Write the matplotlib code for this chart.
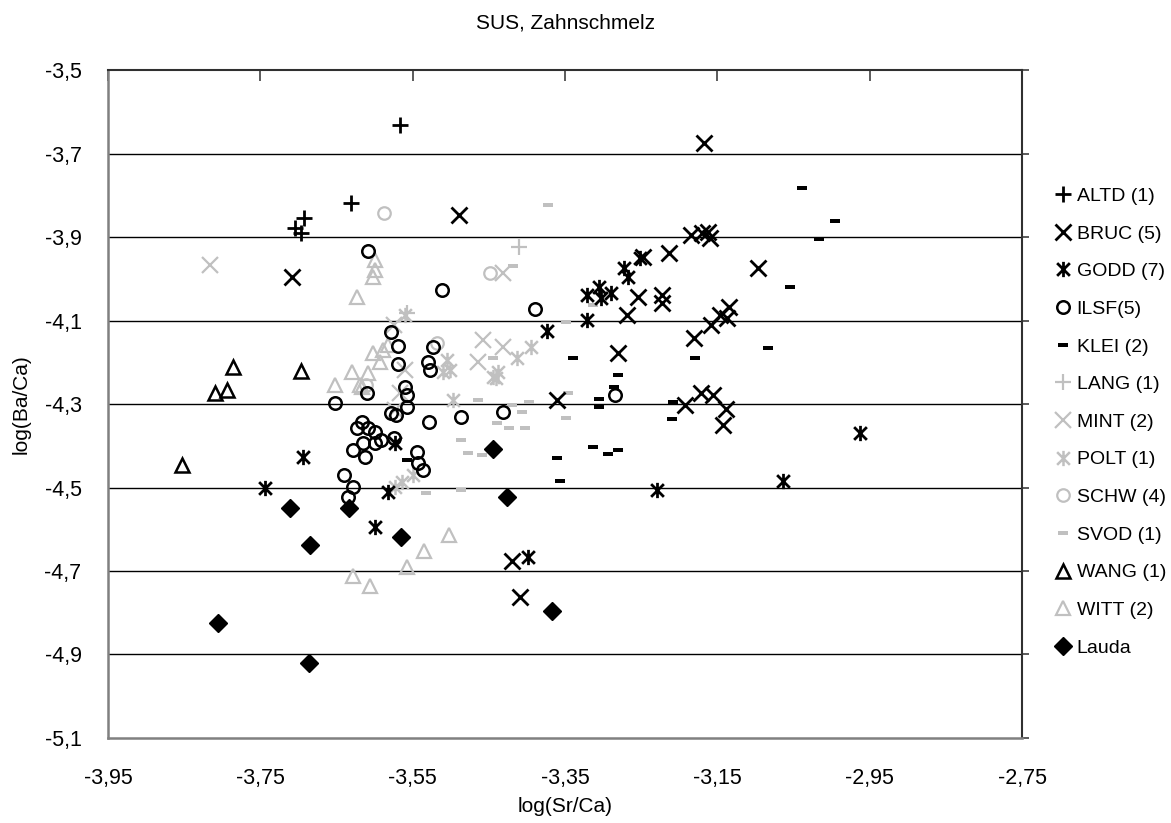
import matplotlib
matplotlib.use("Agg")
import matplotlib.pyplot as plt
from matplotlib.path import Path
from matplotlib.ticker import FuncFormatter, FixedLocator

plt.rcParams['font.family'] = ['Liberation Sans', 'DejaVu Sans']

# ---- data: log(Sr/Ca), log(Ba/Ca) per site ----
altd_x = [-3.566, -3.631, -3.692, -3.704, -3.696]
altd_y = [-3.632, -3.819, -3.854, -3.878, -3.890]

bruc_x = [-3.708, -3.489, -3.168, -3.185, -3.170, -3.162, -3.159, -3.214, -3.248,
          -3.096, -3.254, -3.268, -3.223, -3.223, -3.135, -3.146, -3.137, -3.158,
          -3.181, -3.172, -3.156, -3.192, -3.138, -3.143, -3.280, -3.360, -3.420,
          -3.409]
bruc_y = [-3.996, -3.847, -3.675, -3.895, -3.890, -3.888, -3.902, -3.938, -3.948,
          -3.974, -4.044, -4.087, -4.039, -4.058, -4.068, -4.087, -4.094, -4.111,
          -4.142, -4.274, -4.278, -4.302, -4.312, -4.350, -4.178, -4.290, -4.676,
          -4.762]

godd_x = [-3.744, -3.694, -3.600, -3.582, -3.573, -3.374, -3.321, -3.321, -3.306,
          -3.290, -3.303, -3.273, -3.267, -3.251, -3.398, -3.229, -3.064, -2.963]
godd_y = [-4.501, -4.427, -4.594, -4.511, -4.393, -4.125, -4.099, -4.039, -4.020,
          -4.034, -4.046, -3.974, -3.996, -3.950, -4.666, -4.506, -4.484, -4.369]

ilsf_x = [-3.608, -3.512, -3.579, -3.569, -3.569, -3.610, -3.652, -3.560, -3.558,
          -3.557, -3.579, -3.572, -3.487, -3.528, -3.523, -3.530, -3.527, -3.616,
          -3.623, -3.608, -3.599, -3.592, -3.599, -3.615, -3.628, -3.612, -3.575,
          -3.544, -3.543, -3.536, -3.640, -3.628, -3.635, -3.432, -3.285, -3.390]
ilsf_y = [-3.933, -4.027, -4.127, -4.161, -4.204, -4.274, -4.297, -4.259, -4.278,
          -4.307, -4.321, -4.326, -4.331, -4.343, -4.163, -4.199, -4.218, -4.343,
          -4.357, -4.357, -4.367, -4.386, -4.393, -4.393, -4.410, -4.427, -4.381,
          -4.415, -4.441, -4.458, -4.470, -4.499, -4.523, -4.319, -4.278, -4.072]

klei_x = [-3.558, -3.339, -3.281, -3.305, -3.306, -3.286, -3.361, -3.313, -3.294,
          -3.280, -3.356, -3.208, -3.209, -3.179, -3.084, -3.054, -3.017, -2.996,
          -3.039]
klei_y = [-4.434, -4.190, -4.230, -4.288, -4.307, -4.259, -4.429, -4.403, -4.420,
          -4.410, -4.484, -4.295, -4.336, -4.190, -4.166, -4.020, -3.905, -3.862,
          -3.783]

lang_x = [-3.411, -3.557]
lang_y = [-3.924, -4.082]

mint_x = [-3.816, -3.431, -3.575, -3.458, -3.464, -3.432, -3.560, -3.566, -3.573]
mint_y = [-3.967, -3.986, -4.111, -4.147, -4.199, -4.163, -4.218, -4.274, -4.314]

polt_x = [-3.560, -3.505, -3.501, -3.510, -3.497, -3.444, -3.413, -3.395, -3.438,
          -3.441, -3.549, -3.564, -3.573]
polt_y = [-4.087, -4.194, -4.218, -4.223, -4.290, -4.235, -4.190, -4.163, -4.223,
          -4.238, -4.470, -4.487, -4.499]

schw_x = [-3.587, -3.448, -3.518, -3.611]
schw_y = [-3.842, -3.986, -4.154, -4.254]

svod_x = [-3.372, -3.418, -3.349, -3.313, -3.445, -3.464, -3.439, -3.487, -3.477,
          -3.459, -3.533, -3.487, -3.419, -3.397, -3.407, -3.349, -3.346, -3.424,
          -3.403]
svod_y = [-3.823, -3.969, -4.104, -4.063, -4.190, -4.290, -4.345, -4.386, -4.417,
          -4.422, -4.513, -4.506, -4.302, -4.295, -4.319, -4.333, -4.273, -4.357,
          -4.357]

wang_x = [-3.786, -3.794, -3.809, -3.696, -3.853]
wang_y = [-4.211, -4.266, -4.274, -4.220, -4.446]

witt_x = [-3.599, -3.600, -3.602, -3.623, -3.602, -3.589, -3.583, -3.593, -3.629,
          -3.608, -3.619, -3.652, -3.616, -3.502, -3.535, -3.557, -3.628, -3.606]
witt_y = [-3.955, -3.979, -3.996, -4.044, -4.178, -4.170, -4.159, -4.199, -4.223,
          -4.226, -4.254, -4.254, -4.259, -4.614, -4.652, -4.690, -4.712, -4.736]

lauda_x = [-3.711, -3.805, -3.633, -3.685, -3.565, -3.686, -3.445, -3.426, -3.367]
lauda_y = [-4.549, -4.824, -4.549, -4.638, -4.618, -4.920, -4.408, -4.523, -4.796]

labels = ['ALTD (1)', 'BRUC (5)', 'GODD (7)', 'ILSF(5)', 'KLEI (2)', 'LANG (1)',
          'MINT (2)', 'POLT (1)', 'SCHW (4)', 'SVOD (1)', 'WANG (1)', 'WITT (2)',
          'Lauda']

x_ticks = [-3.95, -3.75, -3.55, -3.35, -3.15, -2.95, -2.75]
y_ticks = [-5.1, -4.9, -4.7, -4.5, -4.3, -4.1, -3.9, -3.7, -3.5]

# ---- marker shapes ----
star = Path([(-1, -1), (1, 1), (-1, 1), (1, -1), (0, -1.2), (0, 1.2)],
            [Path.MOVETO, Path.LINETO, Path.MOVETO, Path.LINETO, Path.MOVETO, Path.LINETO])
dash = Path([(-1, -0.45), (1, -0.45), (1, 0.45), (-1, 0.45), (-1, -0.45)],
            [Path.MOVETO, Path.LINETO, Path.LINETO, Path.LINETO, Path.CLOSEPOLY])

BLACK = '#000000'
GRAY = '#C0C0C0'

styles = [
    dict(marker='+', ms=12, mew=2.0, mfc='none', mec=BLACK),
    dict(marker='x', ms=12, mew=2.0, mfc='none', mec=BLACK),
    dict(marker=star, ms=11, mew=2.0, mfc='none', mec=BLACK),
    dict(marker='o', ms=9, mew=1.8, mfc='none', mec=BLACK),
    dict(marker=dash, ms=7, mew=0, mfc=BLACK, mec=BLACK),
    dict(marker='+', ms=12, mew=1.6, mfc='none', mec=GRAY),
    dict(marker='x', ms=12, mew=1.6, mfc='none', mec=GRAY),
    dict(marker=star, ms=11, mew=1.8, mfc='none', mec=GRAY),
    dict(marker='o', ms=9, mew=1.6, mfc='none', mec=GRAY),
    dict(marker=dash, ms=7, mew=0, mfc=GRAY, mec=GRAY),
    dict(marker='^', ms=10, mew=1.8, mfc='none', mec=BLACK),
    dict(marker='^', ms=10, mew=1.6, mfc='none', mec=GRAY),
    dict(marker='D', ms=9, mew=1.0, mfc=BLACK, mec=BLACK),
]

series = [(altd_x, altd_y), (bruc_x, bruc_y), (godd_x, godd_y), (ilsf_x, ilsf_y),
          (klei_x, klei_y), (lang_x, lang_y), (mint_x, mint_y), (polt_x, polt_y),
          (schw_x, schw_y), (svod_x, svod_y), (wang_x, wang_y), (witt_x, witt_y),
          (lauda_x, lauda_y)]

fig = plt.figure(figsize=(11.71, 8.23), dpi=100)
ax = fig.add_axes([0.0922, 0.1033, 0.7806, 0.8116])

for yv in y_ticks[1:-1]:
    ax.axhline(yv, color='black', lw=1.0, zorder=1)

# draw series in reverse so the first ones sit on top
handles = [None] * len(series)
for i in range(len(series) - 1, -1, -1):
    xs, ys = series[i]
    h, = ax.plot(xs, ys, linestyle='none', label=labels[i], zorder=3, **styles[i])
    handles[i] = h

ax.set_xlim(-3.95, -2.75)
ax.set_ylim(-5.1, -3.5)
ax.xaxis.set_major_locator(FixedLocator(x_ticks))
ax.yaxis.set_major_locator(FixedLocator(y_ticks))
ax.xaxis.set_major_formatter(FuncFormatter(lambda v, p: f"{v:.2f}".replace('.', ',')))
ax.yaxis.set_major_formatter(FuncFormatter(lambda v, p: f"{v:.1f}".replace('.', ',')))

ax.tick_params(axis='x', which='major', top=True, bottom=False, labeltop=False,
               labelbottom=True, direction='in', length=8, width=1.2,
               color='#404040', labelsize=15.5, pad=21.5)
ax.tick_params(axis='y', which='major', left=False, right=True, labelleft=True,
               labelright=False, direction='out', length=5, width=1.2,
               color='#404040', labelsize=15.5, pad=14)

for side in ['left', 'bottom']:
    ax.spines[side].set_color('#808080')
    ax.spines[side].set_linewidth(1.8)
for side in ['top', 'right']:
    ax.spines[side].set_color('#303030')
    ax.spines[side].set_linewidth(1.5)

ax.set_xlabel('log(Sr/Ca)', fontsize=15, labelpad=6)
ax.set_ylabel('log(Ba/Ca)', fontsize=15, labelpad=10)
ax.set_title('SUS, Zahnschmelz', fontsize=15, pad=30)

leg = ax.legend(handles=handles, labels=labels, loc='center left',
                bbox_to_anchor=(1.015, 0.473), frameon=False, fontsize=14,
                handlelength=0.8, handletextpad=0.3, labelspacing=1.03,
                borderaxespad=0.6, numpoints=1)

fig.savefig('out.png', dpi=100)
